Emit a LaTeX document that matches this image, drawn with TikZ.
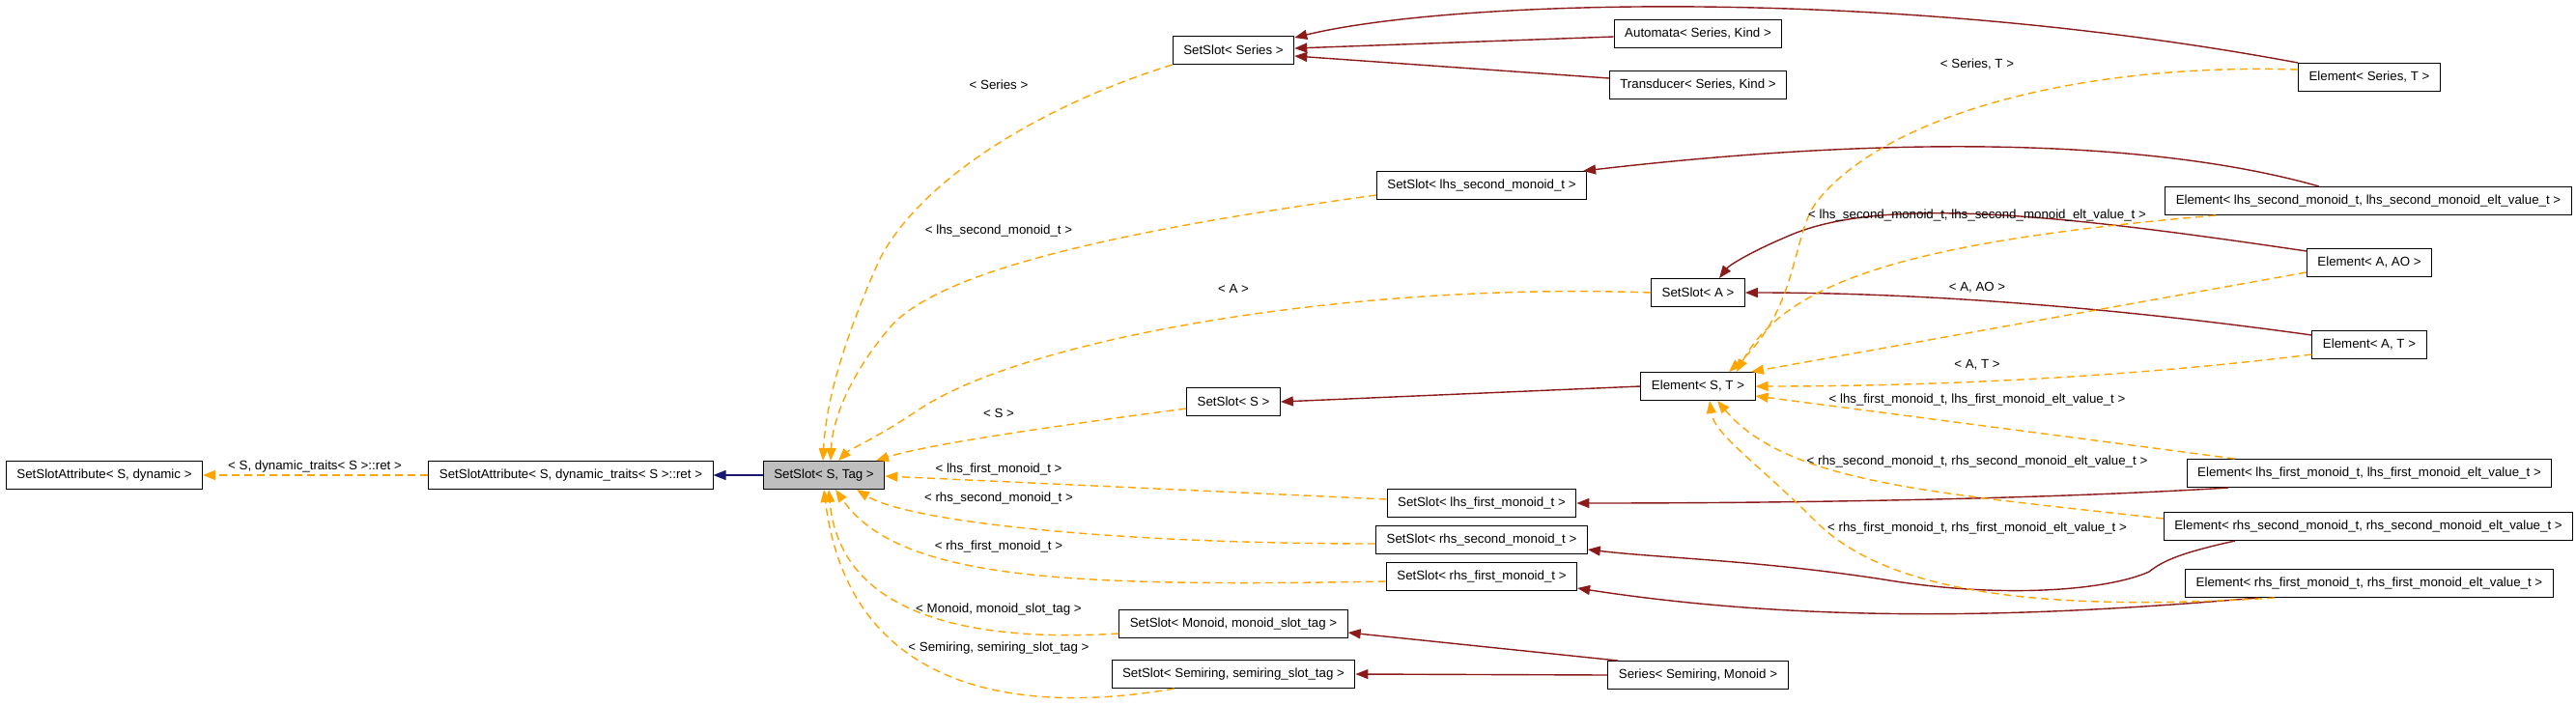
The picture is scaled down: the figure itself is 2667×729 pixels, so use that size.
\documentclass[tikz,border=0pt]{standalone}
\usepackage{fontspec}
\setmainfont{Liberation Sans}
\usetikzlibrary{arrows.meta}
\definecolor{brick}{HTML}{8B1A1A}
\definecolor{tplorange}{HTML}{FFA500}
\definecolor{navy}{HTML}{191970}
\definecolor{basegray}{HTML}{BFBFBF}
\begin{document}
\begin{tikzpicture}[x=1pt,y=-1pt,
  cls/.style={draw=black, line width=1pt, fill=white, font=\fontsize{13.3}{15}\selectfont, inner xsep=11pt, inner ysep=0pt, minimum height=29pt},
  base/.style={cls, fill=basegray},
  lbl/.style={font=\fontsize{13.3}{15}\selectfont, inner sep=0pt},
  inh/.style={draw=brick, line width=1.4pt, -{Triangle[length=13pt,width=10pt]}},
  pub/.style={draw=navy, line width=1.4pt, -{Triangle[length=13pt,width=10pt]}},
  tpl/.style={draw=tplorange, line width=1.4pt, dash pattern=on 8pt off 5pt, -{Triangle[length=13pt,width=10pt]}}]
\useasboundingbox[fill=white] (0,0) rectangle (2667,729);

% Classes
\node[cls] (attrdyn) at (108,492) {SetSlotAttribute< S, dynamic >};
\node[cls] (attrret) at (591,492) {SetSlotAttribute< S, dynamic\_traits< S >::ret >};
\node[base] (slot) at (853,492) {SetSlot< S, Tag >};
\node[cls] (slotseries) at (1277,52) {SetSlot< Series >};
\node[cls] (automata) at (1758,35) {Automata< Series, Kind >};
\node[cls] (transducer) at (1758,88) {Transducer< Series, Kind >};
\node[cls] (elseries) at (2453,80) {Element< Series, T >};
\node[cls] (slotlhss) at (1534,192) {SetSlot< lhs\_second\_monoid\_t >};
\node[cls] (ellhss) at (2452,208) {Element< lhs\_second\_monoid\_t, lhs\_second\_monoid\_elt\_value\_t >};
\node[cls] (elaao) at (2453,272) {Element< A, AO >};
\node[cls] (slota) at (1758,303) {SetSlot< A >};
\node[cls] (elat) at (2453,357) {Element< A, T >};
\node[cls] (elst) at (1758,400) {Element< S, T >};
\node[cls] (slots) at (1277,416) {SetSlot< S >};
\node[cls] (ellhsf) at (2453,490) {Element< lhs\_first\_monoid\_t, lhs\_first\_monoid\_elt\_value\_t >};
\node[cls] (slotlhsf) at (1534,521) {SetSlot< lhs\_first\_monoid\_t >};
\node[cls] (elrhss) at (2452,545) {Element< rhs\_second\_monoid\_t, rhs\_second\_monoid\_elt\_value\_t >};
\node[cls] (slotrhss) at (1534,559) {SetSlot< rhs\_second\_monoid\_t >};
\node[cls] (slotrhsf) at (1534,597) {SetSlot< rhs\_first\_monoid\_t >};
\node[cls] (elrhsf) at (2453,604) {Element< rhs\_first\_monoid\_t, rhs\_first\_monoid\_elt\_value\_t >};
\node[cls] (slotmonoid) at (1277,646) {SetSlot< Monoid, monoid\_slot\_tag >};
\node[cls] (slotsemiring) at (1277,698) {SetSlot< Semiring, semiring\_slot\_tag >};
\node[cls] (series) at (1758,699) {Series< Semiring, Monoid >};

% Public inheritance
\draw[pub] (slot.west) -- (attrret.east);
\draw[inh] ([yshift=-3pt]automata.west) -- ([yshift=2pt]slotseries.east);
\draw[inh] ([yshift=7pt]transducer.west) -- ([yshift=-6pt]slotseries.east);
\draw[inh] (elseries.north west) .. controls (1950,-15) and (1500,0) .. ([yshift=-2pt]slotseries.north east);
\draw[inh] ([xshift=-51pt]ellhss.north) .. controls (2250,150) and (2000,135) .. ([xshift=-4pt]slotlhss.north east);
\draw[inh] ([yshift=12pt]elaao.west) .. controls (2150,225) and (1950,200) .. (1850,245) .. controls (1810,262) and (1790,275) .. ([xshift=22pt]slota.north);
\draw[inh] ([yshift=10pt]elat.west) .. controls (2200,320) and (2000,303) .. (slota.east);
\draw[inh] (elst.west) -- (slots.east);
\draw[inh] ([xshift=-146pt]ellhsf.south) .. controls (2150,515) and (1900,521) .. (slotlhsf.east);
\draw[inh] ([xshift=-138pt]elrhss.south) .. controls (2260,572) and (2240,580) .. (2225,592) .. controls (2180,612) and (2070,620) .. (1950,600) .. controls (1820,580) and (1720,578) .. ([yshift=-10pt]slotrhss.east);
\draw[inh] ([xshift=-115pt]elrhsf.south) .. controls (2150,635) and (1900,650) .. ([yshift=-12pt]slotrhsf.east);
\draw[inh] ([xshift=-83pt]series.north) -- ([yshift=-9pt]slotmonoid.east);
\draw[inh] (series.west) -- (slotsemiring.east);

% Template instances of SetSlot
\draw[tpl] (attrret.west) -- (attrdyn.east);
\draw[tpl] (slotseries.south west) .. controls (1070,112) and (950,190) .. (910,270) .. controls (870,360) and (855,420) .. ([xshift=-1pt]slot.north);
\draw[tpl] ([yshift=-10pt]slotlhss.west) .. controls (1150,240) and (980,280) .. (925,335) .. controls (885,380) and (862,430) .. ([xshift=7pt]slot.north);
\draw[tpl] (slota.west) .. controls (1400,292) and (1060,350) .. (950,425) .. controls (905,455) and (880,465) .. ([xshift=15pt]slot.north);
\draw[tpl] ([yshift=-7pt]slots.west) .. controls (1100,440) and (960,460) .. ([xshift=54pt]slot.north);
\draw[tpl] ([yshift=4pt]slotlhsf.west) -- ([yshift=-1pt]slot.east);
\draw[tpl] ([yshift=-4pt]slotrhss.west) .. controls (1150,563) and (940,540) .. ([xshift=34pt]slot.south);
\draw[tpl] ([yshift=-5pt]slotrhsf.west) .. controls (1100,608) and (930,600) .. ([xshift=12pt]slot.south);
\draw[tpl] ([yshift=-10pt]slotmonoid.west) .. controls (1010,665) and (870,640) .. ([xshift=5pt]slot.south);
\draw[tpl] ([xshift=-61pt]slotsemiring.south) .. controls (1060,740) and (880,720) .. (slot.south);

% Template instances of Element
\draw[tpl] ([yshift=8pt]elseries.west) .. controls (2150,65) and (1950,120) .. (1880,210) .. controls (1855,245) and (1862,320) .. ([xshift=32pt]elst.north);
\draw[tpl] ([xshift=-158pt]ellhss.south) .. controls (1980,250) and (1850,290) .. ([xshift=40pt]elst.north);
\draw[tpl] ([yshift=-10pt]elaao.west) -- ([xshift=55pt]elst.north);
\draw[tpl] ([yshift=-10pt]elat.west) .. controls (2250,385) and (2050,400) .. (elst.east);
\draw[tpl] ([xshift=-139pt]ellhsf.north) -- ([yshift=-10pt]elst.east);
\draw[tpl] ([yshift=8pt]elrhss.west) .. controls (2000,510) and (1850,500) .. ([xshift=20pt]elst.south);
\draw[tpl] ([xshift=-98pt]elrhsf.south) .. controls (2100,635) and (1950,610) .. (1880,540) .. controls (1820,480) and (1775,450) .. ([xshift=12pt]elst.south);

% Labels
\node[lbl] (lblret) at (326,483) {< S, dynamic\_traits< S >::ret >};
\node[lbl] (lblseries) at (1034,88) {< Series >};
\node[lbl] (lbllhss) at (1034,239) {< lhs\_second\_monoid\_t >};
\node[lbl] (lbla) at (1277,299) {< A >};
\node[lbl] (lbls) at (1034,428) {< S >};
\node[lbl] (lbllhsf) at (1034,486) {< lhs\_first\_monoid\_t >};
\node[lbl] (lblrhss) at (1034,516) {< rhs\_second\_monoid\_t >};
\node[lbl] (lblrhsf) at (1034,566) {< rhs\_first\_monoid\_t >};
\node[lbl] (lblmonoid) at (1034,631) {< Monoid, monoid\_slot\_tag >};
\node[lbl] (lblsemiring) at (1034,671) {< Semiring, semiring\_slot\_tag >};
\node[lbl] (lblseriest) at (2047,67) {< Series, T >};
\node[lbl] (lbllhsse) at (2047,223) {< lhs\_second\_monoid\_t, lhs\_second\_monoid\_elt\_value\_t >};
\node[lbl] (lblaao) at (2047,298) {< A, AO >};
\node[lbl] (lblat) at (2047,378) {< A, T >};
\node[lbl] (lbllhsfe) at (2047,414) {< lhs\_first\_monoid\_t, lhs\_first\_monoid\_elt\_value\_t >};
\node[lbl] (lblrhsse) at (2047,478) {< rhs\_second\_monoid\_t, rhs\_second\_monoid\_elt\_value\_t >};
\node[lbl] (lblrhsfe) at (2047,547) {< rhs\_first\_monoid\_t, rhs\_first\_monoid\_elt\_value\_t >};

\end{tikzpicture}
\end{document}
